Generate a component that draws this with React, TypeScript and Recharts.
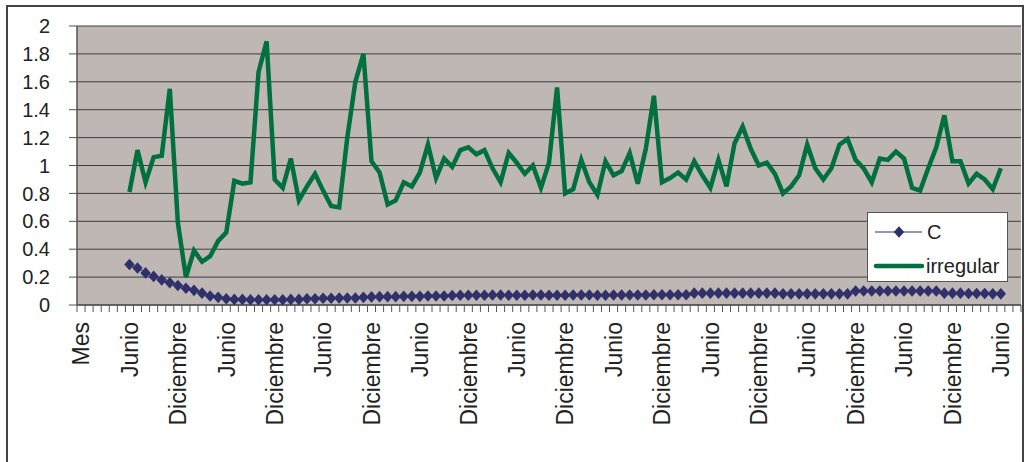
import React from 'react';
import { ComposedChart, Line, XAxis, YAxis, CartesianGrid } from 'recharts';

// month names cycle along the category axis, first category is the header "Mes"
const monthNames = [
  'Enero', 'Febrero', 'Marzo', 'Abril', 'Mayo', 'Junio',
  'Julio', 'Agosto', 'Septiembre', 'Octubre', 'Noviembre', 'Diciembre',
];
const totalCategories = 117;
const firstDataIndex = 6;

const yTicks = [0, 0.2, 0.4, 0.6, 0.8, 1, 1.2, 1.4, 1.6, 1.8, 2];

// series C (diamonds), from the first Junio to the last Junio
const serieC = [
  0.29, 0.265, 0.23, 0.205, 0.18, 0.16, 0.14, 0.12, 0.105, 0.085, 0.065, 0.055, 0.045,
  0.04, 0.04, 0.038, 0.038, 0.038, 0.038, 0.038, 0.04, 0.04,
  0.045, 0.045, 0.048, 0.048, 0.05, 0.05, 0.05,
  0.055, 0.058, 0.06, 0.06, 0.06, 0.062, 0.062, 0.062, 0.065, 0.065, 0.065,
  0.068, 0.07, 0.07, 0.07, 0.07, 0.072, 0.072, 0.07, 0.07, 0.07,
  0.072, 0.072, 0.07, 0.07, 0.07, 0.072, 0.072, 0.072, 0.07, 0.07,
  0.072, 0.072, 0.072, 0.072, 0.072, 0.074, 0.074, 0.074, 0.074, 0.074,
  0.085, 0.085, 0.085, 0.085, 0.085, 0.085, 0.085, 0.085, 0.085, 0.085, 0.085,
  0.08, 0.08, 0.08, 0.08, 0.08, 0.08, 0.08, 0.08, 0.08,
  0.1, 0.1, 0.1, 0.1, 0.1, 0.1, 0.1, 0.1, 0.1, 0.1, 0.1,
  0.085, 0.085, 0.085, 0.082, 0.082, 0.082, 0.08, 0.08,
];

// series irregular (thick green line)
const serieIrregular = [
  0.81, 1.11, 0.88, 1.06, 1.07, 1.55, 0.59, 0.2, 0.39, 0.31, 0.35, 0.46, 0.52,
  0.89, 0.87, 0.88, 1.67, 1.89, 0.9, 0.84, 1.05, 0.75, 0.85, 0.94, 0.82,
  0.71, 0.7, 1.2, 1.6, 1.8, 1.03, 0.95, 0.72, 0.75, 0.88, 0.85, 0.95,
  1.15, 0.91, 1.05, 0.99, 1.11, 1.13, 1.08, 1.11, 0.98, 0.88, 1.09, 1.02,
  0.94, 1.0, 0.84, 1.02, 1.56, 0.8, 0.83, 1.04, 0.88, 0.79, 1.03, 0.93,
  0.96, 1.09, 0.87, 1.12, 1.5, 0.88, 0.91, 0.95, 0.9, 1.03, 0.93, 0.84,
  1.04, 0.85, 1.16, 1.28, 1.12, 1.0, 1.02, 0.94, 0.8, 0.85, 0.93, 1.15,
  0.98, 0.9, 0.98, 1.15, 1.19, 1.04, 0.98, 0.88, 1.05, 1.04, 1.1, 1.05,
  0.84, 0.82, 0.98, 1.13, 1.36, 1.03, 1.03, 0.87, 0.94, 0.9, 0.83, 0.98,
];

const categories = Array.from({ length: totalCategories }, (_, i) =>
  i === 0 ? 'Mes' : monthNames[(i - 1) % 12]
);

const data = categories.map((mes, i) => {
  const k = i - firstDataIndex;
  return {
    idx: i,
    mes,
    C: k >= 0 && k < serieC.length ? serieC[k] : null,
    irregular: k >= 0 && k < serieIrregular.length ? serieIrregular[k] : null,
  };
});

const W = 1030;
const H = 462;
const margin = { top: 26, right: 9, left: 0, bottom: 0 };
const yAxisWidth = 77;
const xAxisHeight = 157;
const halfBand = (W - margin.right - yAxisWidth) / totalCategories / 2;

const navy = '#30306a';
const green = '#00703f';
const textColor = '#222';
const font = '"Liberation Sans", Arial, sans-serif';

const XTick = (props: any) => {
  const { x, y, payload } = props;
  const off = payload && typeof payload.offset === 'number' && payload.offset > 0 ? payload.offset : halfBand;
  const i = payload.value as number;
  const label = categories[i];
  const show = i % 6 === 0;
  return (
    <g>
      <line x1={x - off} x2={x - off} y1={y} y2={y + 7} stroke="#555" strokeWidth={1} />
      {i === totalCategories - 1 && (
        <line x1={x + off} x2={x + off} y1={y} y2={y + 7} stroke="#555" strokeWidth={1} />
      )}
      {show && (
        <text
          x={x}
          y={y + 17}
          dy="0.36em"
          transform={`rotate(-90, ${x}, ${y + 17})`}
          textAnchor="end"
          fill={textColor}
          fontSize={23}
          fontFamily={font}
        >
          {label}
        </text>
      )}
    </g>
  );
};

const Diamond = (props: any) => {
  const { cx, cy } = props;
  if (cx == null || cy == null) return null;
  return (
    <path
      d={`M${cx},${cy - 5.8} L${cx + 5.2},${cy} L${cx},${cy + 5.8} L${cx - 5.2},${cy} Z`}
      fill={navy}
      stroke="none"
    />
  );
};

const LegendBox = () => (
  <div
    style={{
      position: 'absolute',
      left: 867,
      top: 212,
      width: 141,
      height: 70,
      background: '#fff',
      border: '1px solid #555',
      boxSizing: 'border-box',
    }}
  >
    <svg width={139} height={68} style={{ display: 'block' }}>
      <line x1={7} x2={54} y1={19} y2={19} stroke={navy} strokeWidth={1.2} />
      <path d="M31,13.2 L36.2,19 L31,24.8 L25.8,19 Z" fill={navy} />
      <text x={59} y={26} fontSize={20} fontFamily={font} fill={textColor}>C</text>
      <line x1={8} x2={54} y1={53} y2={53} stroke={green} strokeWidth={4.5} strokeLinecap="round" />
      <text x={58} y={60} fontSize={20} fontFamily={font} fill={textColor}>irregular</text>
    </svg>
  </div>
);

export default function App() {
  return (
    <div style={{ position: 'absolute', left: 0, top: 0, width: W, height: H, background: '#fff', overflow: 'hidden' }}>
      <div
        style={{
          position: 'absolute',
          left: 6,
          top: 5,
          width: 1018,
          height: 480,
          border: '2px solid #444',
          boxSizing: 'border-box',
        }}
      />
      <div style={{ position: 'absolute', left: 0, top: 0 }}>
        <ComposedChart width={W} height={H} data={data} margin={margin}>
          <CartesianGrid horizontal vertical={false} stroke="#3d3d3d" fill="#bfb7b4" fillOpacity={1} />
          <XAxis
            dataKey="idx"
            type="category"
            scale="band"
            interval={0}
            height={xAxisHeight}
            tickSize={0}
            tickMargin={0}
            tickLine={false}
            axisLine={{ stroke: '#555', strokeWidth: 1.5 }}
            tick={<XTick />}
          />
          <YAxis
            domain={[0, 2]}
            ticks={yTicks}
            width={yAxisWidth}
            tickSize={8}
            tickMargin={19}
            interval={0}
            axisLine={{ stroke: '#555', strokeWidth: 1.5 }}
            tickLine={{ stroke: '#555' }}
            tickFormatter={(v: number) => String(v)}
            tick={{ fill: textColor, fontSize: 20, fontFamily: font }}
          />
          <Line
            dataKey="C"
            name="C"
            stroke={navy}
            strokeWidth={1}
            dot={<Diamond />}
            activeDot={false}
            isAnimationActive={false}
            connectNulls={false}
          />
          <Line
            dataKey="irregular"
            name="irregular"
            stroke={green}
            strokeWidth={4.5}
            dot={false}
            activeDot={false}
            isAnimationActive={false}
            connectNulls={false}
          />
        </ComposedChart>
      </div>
      <LegendBox />
    </div>
  );
}
